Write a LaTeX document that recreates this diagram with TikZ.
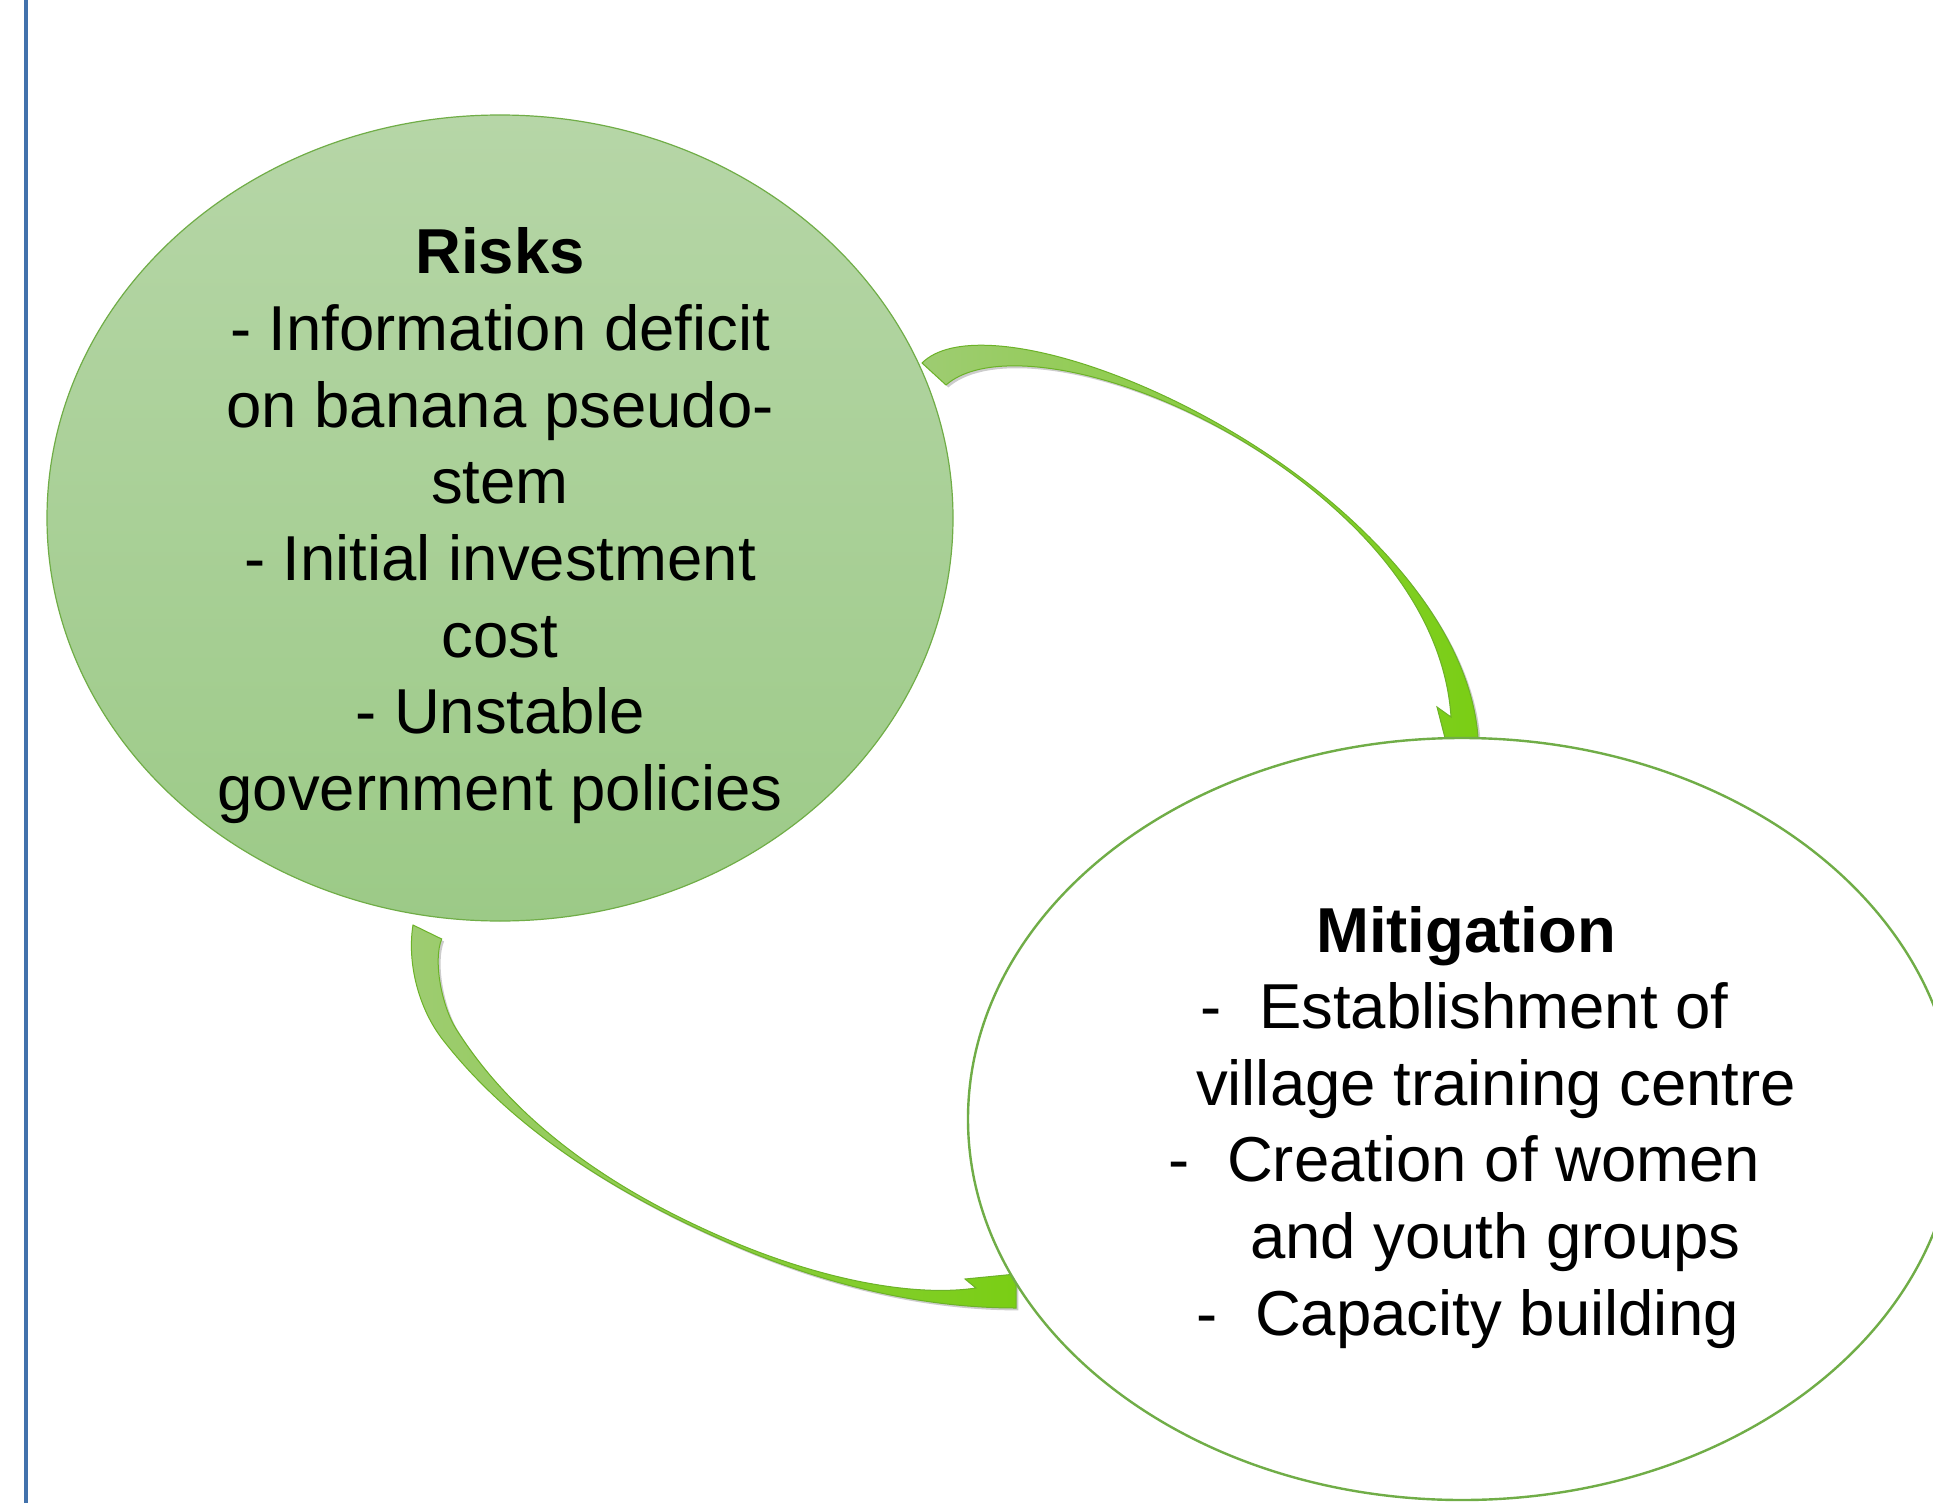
\documentclass[tikz,border=0pt]{standalone}
\usepackage{fontspec}
\setmainfont{Liberation Sans}
\usetikzlibrary{shapes.geometric,shadows}
\definecolor{ellborder}{RGB}{112,173,71}
\definecolor{risktop}{RGB}{182,214,167}
\definecolor{riskbot}{RGB}{156,202,135}
\definecolor{arrtail}{RGB}{158,204,114}
\definecolor{arrhead}{RGB}{122,206,20}
\definecolor{arredge}{RGB}{108,178,40}
\definecolor{sideblue}{RGB}{66,114,172}
\begin{document}
\begin{tikzpicture}[x=0.5pt,y=-0.5pt,
  bodytext/.style={font=\fontsize{31.75pt}{38.3pt}\selectfont, inner sep=0pt, outer sep=0pt},
  curvearrow/.style={draw=arredge, line width=0.5pt, left color=arrtail, right color=arrhead,
     drop shadow={shadow xshift=1.2pt, shadow yshift=-1.2pt, opacity=0.2, fill=black}},
]
\useasboundingbox (0,0) rectangle (1933,1503);
\clip (0,0) rectangle (1933,1503);
\fill[white] (0,0) rectangle (1933,1503);
\draw[sideblue, line width=1.6pt] (26,0) -- (26,1503);

\node[ellipse, draw=ellborder, line width=0.6pt, top color=risktop, bottom color=riskbot,
      minimum width=453pt, minimum height=403pt, inner sep=0pt] (risks) at (500,518) {};

% top curved arrow (Risks -> Mitigation)
\path[curvearrow]
 (922,363) .. controls (978,307) and (1215,389) .. (1359,527)
 .. controls (1417,582) and (1472,657) .. (1478,737)
 -- (1479,752) -- (1446,752) -- (1445,738) -- (1437,707) -- (1451,717)
 .. controls (1446,640) and (1402,575.6) .. (1356.5,529.5)
 .. controls (1219,391.2) and (1006,332.2) .. (946,385)
 -- cycle;

% bottom curved arrow (Risks -> Mitigation)
\path[curvearrow]
 (413,925) .. controls (407,962) and (418,1008) .. (443,1040)
 .. controls (517,1135) and (628,1200) .. (738,1247)
 .. controls (825,1284) and (920,1308) .. (1016,1308)
 -- (1016,1274) -- (965,1279) -- (976,1288)
 .. controls (915,1297) and (826.6,1280.3) .. (738.8,1244.2)
 .. controls (628.5,1198.5) and (521,1131.5) .. (456.4,1029.5)
 .. controls (441.4,1005.8) and (433,960) .. (441.7,939)
 -- cycle;

\node[ellipse, draw=ellborder, line width=1.2pt, fill=white,
      minimum width=494pt, minimum height=381pt, inner sep=0pt] (mitig) at (1462,1119) {};

% Risks text
\node[bodytext, anchor=base] (r1) at (500,274)   {\bfseries Risks};
\node[bodytext, anchor=base] (r2) at (500,350.6) {- Information deficit};
\node[bodytext, anchor=base] (r3) at (500,427.2) {on banana pseudo-};
\node[bodytext, anchor=base] (r4) at (500,503.8) {stem};
\node[bodytext, anchor=base] (r5) at (500,580.4) {- Initial investment};
\node[bodytext, anchor=base] (r6) at (500,657)   {cost};
\node[bodytext, anchor=base] (r7) at (500,733.6) {- Unstable};
\node[bodytext, anchor=base] (r8) at (500,810.2) {government policies};

% Mitigation text
\node[bodytext, anchor=base] (m1) at (1466,952) {\bfseries Mitigation};
\node[bodytext, anchor=base west] (m2) at (1200,1028.6) {-\hspace{19pt}Establishment of};
\node[bodytext, anchor=base west] (m3) at (1196,1105.2) {village training centre};
\node[bodytext, anchor=base west] (m4) at (1168,1181.8) {-\hspace{19pt}Creation of women};
\node[bodytext, anchor=base west] (m5) at (1250,1258.4) {and youth groups};
\node[bodytext, anchor=base west] (m6) at (1196,1335)   {-\hspace{19pt}Capacity building};
\end{tikzpicture}
\end{document}
